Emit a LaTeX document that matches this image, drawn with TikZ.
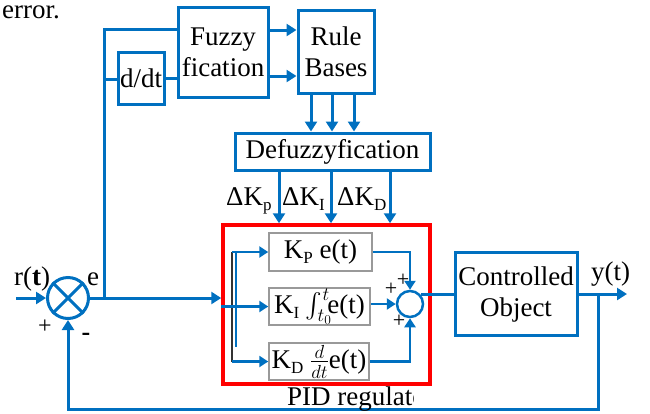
\documentclass[tikz,border=0pt]{standalone}
\usepackage{fix-cm}
\usepackage{amsmath}
\usepackage{fontspec}
\setmainfont{Liberation Serif}
\usetikzlibrary{arrows.meta}
\definecolor{lb}{HTML}{0070C0}
\newcommand{\mysub}[1]{\raisebox{-5pt}{\fontsize{17}{17}\selectfont #1}}
\begin{document}
\begin{tikzpicture}[x=1pt,y=-1pt, font=\rmfamily\fontsize{27}{31}\selectfont,
  ln/.style={lb, line width=3pt},
  arr/.style={lb, line width=3pt, -{Triangle[length=10pt,width=12pt]}},
  iarr/.style={lb, line width=2.5pt, -{Triangle[length=9pt,width=11pt]}},
  box/.style={draw=lb, line width=3pt, inner sep=0pt, align=center},
  gbox/.style={draw=gray!80, line width=1.5pt, inner sep=0pt},
  lab/.style={anchor=base west, inner sep=0pt},
  pm/.style={inner sep=0pt, font=\fontsize{22}{22}\selectfont}]
\useasboundingbox (0,0) rectangle (650,413);

% blocks
\node[box, minimum width=90pt, minimum height=90pt] (fuzzy) at (223,52) {Fuzzy\\fication};
\node[box, minimum width=76pt, minimum height=83pt] (rule) at (336,51.5) {Rule\\Bases};
\node[box, minimum width=46pt, minimum height=52pt] (dd) at (141,78) {d/dt};
\node[box, minimum width=195pt, minimum height=37pt] (defuz) at (332.5,151.5) {Defuzzyfication};
\node[box, minimum width=122pt, minimum height=83pt] (co) at (516,294) {Controlled\\Object};

\node[gbox, minimum width=103pt, minimum height=38pt] (kp) at (320.5,252) {K\mysub{P} e(t)};
\node[gbox, minimum width=101pt, minimum height=37pt] (ki) at (319.5,306.5) {K\mysub{I} $\int_{t_0}^{t}\!$e(t)};
\node[gbox, minimum width=100pt, minimum height=37pt] (kd) at (319,361.5) {K\mysub{D} $\frac{d}{dt}$e(t)};

\node[draw=lb, line width=3pt, circle, minimum size=41pt, inner sep=0pt] (sum1) at (68,298) {};
\draw[ln] (sum1.45) -- (sum1.225) (sum1.135) -- (sum1.315);
\node[draw=lb, line width=2.5pt, circle, fill=white, minimum size=26pt, inner sep=0pt] (sum2) at (410,304) {};

% fuzzy part
\coordinate (t1) at (104,29);
\coordinate (t2) at (104,79);
\coordinate (b1) at (104,298);
\draw[ln] (b1) -- (t1) -- (t1 -| fuzzy.west);
\draw[ln] (t2) -- (t2 -| dd.west);
\draw[ln] (dd.east) -- (dd.east -| fuzzy.west);
\coordinate (y30) at (0,30);
\coordinate (y76) at (0,76);
\draw[arr] (fuzzy.east |- y30) -- (rule.west |- y30);
\draw[arr] (fuzzy.east |- y76) -- (rule.west |- y76);
\foreach \x in {311,332,354}{
  \coordinate (c) at (\x,0);
  \draw[arr] (c |- rule.south) -- (c |- defuz.north);
}
\node[draw=red, line width=3.5pt, minimum width=207pt, minimum height=159pt, inner sep=0pt] (red) at (326.5,304.5) {};
\foreach \x in {279,331,390}{
  \coordinate (c) at (\x,0);
  \draw[arr] (c |- defuz.south) -- (c |- red.north);
}
\node[lab] (dkp) at (226,205) {ΔK\mysub{p}};
\node[lab] (dki) at (282,205) {ΔK\mysub{I}};
\node[lab] (dkd) at (337,205) {ΔK\mysub{D}};

% main loop
\coordinate (rin) at (16,298);
\draw[arr] (rin) -- (sum1.west);
\draw[arr] (sum1.east) -- (sum1.east -| red.west);

% inside PID
\coordinate (bx) at (232,0);
\coordinate (bb) at (236,0);
\coordinate (bend) at (236,347);
\draw[black!80, line width=1.2pt] (bx |- kp.west) -- (bx |- kd.west);
\draw[ln, line width=2.5pt] (bb |- kp.west) -- (bend);
\draw[iarr] (bx |- kp.west) -- (kp.west);
\draw[iarr] (bx |- kd.west) -- (kd.west);
\draw[iarr] (red.west |- ki.west) -- (ki.west);
\draw[iarr] (kp.east) -- (kp.east -| sum2.north) -- (sum2.north);
\draw[iarr] (kd.east) -- (kd.east -| sum2.south) -- (sum2.south);
\draw[iarr] (ki.east |- sum2.west) -- (sum2.west);
\draw[ln] (sum2.40) -- (sum2.40 -| co.west);

% output and feedback
\coordinate (yout) at (627,0);
\coordinate (fb) at (598,409);
\draw[arr] (co.east) -- (co.east -| yout);
\draw[arr] (co.east -| fb) -- (fb) -| (sum1.south);

% labels
\node[lab] (err) at (2,18) {error.};
\node[lab] (rt) at (14,285) {r(\textbf{t})};
\node[lab] (e) at (87,285) {e};
\node[pm, font=\fontsize{24}{24}\selectfont] (p1) at (45,327) {+};
\node[pm, font=\fontsize{26}{26}\selectfont\bfseries] (m1) at (86,337) {-};
\node[pm] (p2) at (391,289) {+};
\node[pm] (p3) at (403,280) {+};
\node[pm] (p4) at (399,321) {+};
\node[lab] (yt) at (591,280) {y(t)};
\begin{scope}
\clip (280,384) rectangle (413,413);
\node[lab] (pid) at (287,405) {PID regulator};
\end{scope}
\end{tikzpicture}
\end{document}
